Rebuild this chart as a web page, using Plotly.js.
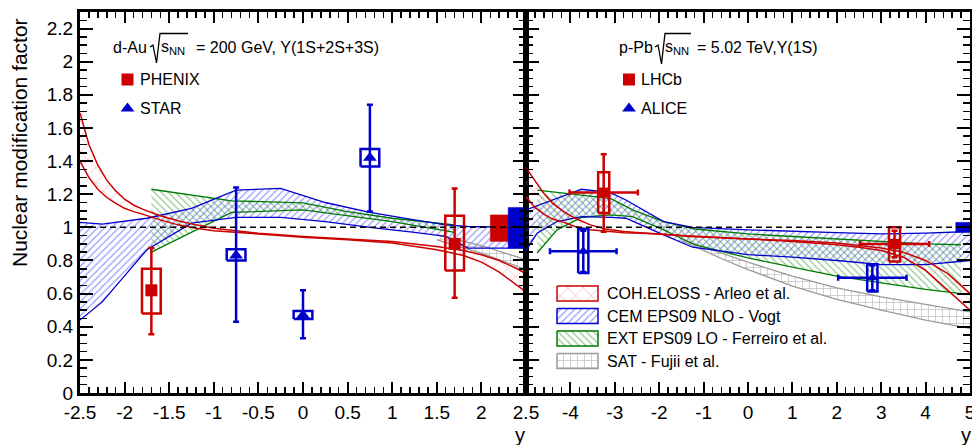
<!DOCTYPE html>
<html><head><meta charset="utf-8">
<script src="https://cdn.plot.ly/plotly-3.0.1.min.js"></script>
<style>html,body{margin:0;padding:0;background:#fff}#chart{width:972px;height:445px}</style>
</head><body><div id="chart"></div>
<script>
// ================= DATA =================
// ---- left panel: d-Au, sqrt(sNN) = 200 GeV, Upsilon(1S+2S+3S) ----
const phenixY      = [-1.7, 1.7];
const phenixR      = [0.62, 0.90];
const phenixStatLo = [0.355, 0.575];
const phenixStatHi = [0.875, 1.235];
const phenixSystLo = [0.48, 0.74];
const phenixSystHi = [0.75, 1.07];

const starY      = [-0.75, 0, 0.75];
const starR      = [0.83, 0.47, 1.42];
const starStatLo = [0.43, 0.33, 1.095];
const starStatHi = [1.24, 0.62, 1.74];
const starSystLo = [0.80, 0.447, 1.367];
const starSystHi = [0.868, 0.495, 1.473];

// global normalisation uncertainties (boxes at R = 1)
const globalLNames = ['PHENIX', 'STAR'];
const globalLX  = [2.2, 2.4];
const globalLLo = [0.915, 0.875];
const globalLHi = [1.075, 1.12];

// theory bands, left panel
const cohLX  = [-2.5, -2.4, -2.3, -2.2, -2.1, -2.0, -1.9, -1.8, -1.6, -1.4, -1.2, -1.0, -0.5, 0, 0.5, 1.0, 1.5, 1.8, 2.0, 2.2, 2.4, 2.5];
const cohLUp = [1.69, 1.50, 1.375, 1.285, 1.22, 1.17, 1.135, 1.11, 1.07, 1.04, 1.015, 0.995, 0.965, 0.945, 0.93, 0.915, 0.885, 0.86, 0.835, 0.80, 0.75, 0.72];
const cohLLo = [1.40, 1.30, 1.23, 1.18, 1.145, 1.115, 1.095, 1.08, 1.045, 1.015, 0.995, 0.98, 0.96, 0.94, 0.925, 0.905, 0.865, 0.83, 0.79, 0.73, 0.65, 0.61];

const cemLX  = [-2.5, -2.25, -1.75, -1.25, -0.75, -0.25, 0.25, 0.75, 1.25, 1.6, 1.85, 2.5];
const cemLUp = [1.03, 1.02, 1.055, 1.115, 1.225, 1.235, 1.15, 1.09, 1.045, 1.015, 1.005, 1.0];
const cemLLo = [0.44, 0.55, 0.865, 1.025, 1.06, 1.06, 1.035, 1.0, 0.97, 0.945, 0.875, 0.875];

const extLX  = [-1.7, -0.8, 0, 0.5, 1.0, 1.7];
const extLUp = [1.23, 1.16, 1.148, 1.095, 1.055, 1.015];
const extLLo = [0.85, 1.09, 1.105, 1.07, 1.035, 0.97];

const satLX  = [1.5, 2.0, 2.5];
const satLUp = [0.955, 0.89, 0.805];
const satLLo = [0.925, 0.845, 0.745];

// ---- right panel: p-Pb, sqrt(sNN) = 5.02 TeV, Upsilon(1S) ----
const lhcbY      = [-3.25, 3.3];
const lhcbYErr   = [0.77, 0.78];
const lhcbR      = [1.21, 0.90];
const lhcbStatLo = [0.973, 0.82];
const lhcbStatHi = [1.441, 0.98];
const lhcbSystLo = [1.087, 0.794];
const lhcbSystHi = [1.332, 1.0];

const aliceY      = [-3.71, 2.8];
const aliceYErr   = [0.75, 0.77];
const aliceR      = [0.855, 0.695];
const aliceStatLo = [0.73, 0.62];
const aliceStatHi = [0.98, 0.77];
const aliceSystLo = [0.724, 0.612];
const aliceSystHi = [0.99, 0.777];

const globalRNames = ['ALICE'];
const globalRX  = [4.84];
const globalRLo = [0.97];
const globalRHi = [1.03];

const cohRX  = [-5, -4.8, -4.6, -4.4, -4.15, -3.9, -3.55, -3.2, -2.8, -2, -1.3, 0, 1, 2, 2.5, 3, 3.5, 4, 4.5, 5];
const cohRUp = [1.36, 1.28, 1.205, 1.145, 1.095, 1.055, 1.015, 0.99, 0.975, 0.958, 0.948, 0.93, 0.92, 0.905, 0.89, 0.875, 0.85, 0.80, 0.72, 0.60];
const cohRLo = [1.185, 1.12, 1.08, 1.05, 1.03, 1.005, 0.985, 0.975, 0.968, 0.962, 0.945, 0.93, 0.915, 0.895, 0.88, 0.86, 0.82, 0.74, 0.62, 0.50];

const cemRX  = [-5, -4.75, -4.3, -3.75, -3.1, -2.75, -1.9, -1.25, 0, 1, 2, 3, 4, 5];
const cemRUp = [1.105, 1.13, 1.175, 1.23, 1.21, 1.165, 1.035, 1.0, 0.985, 0.975, 0.968, 0.96, 0.965, 0.975];
const cemRLo = [0.86, 0.965, 1.035, 1.065, 1.06, 1.055, 0.955, 0.88, 0.835, 0.82, 0.80, 0.775, 0.775, 0.80];

const extRX  = [-4.75, -4.3, -3.75, -3.1, -2.6, -1.9, -1.2, 0, 1, 2, 3, 4, 4.8];
const extRUp = [1.225, 1.21, 1.195, 1.175, 1.105, 1.035, 0.99, 0.96, 0.945, 0.93, 0.915, 0.90, 0.895];
const extRLo = [0.845, 0.985, 1.06, 1.075, 1.065, 0.985, 0.895, 0.815, 0.76, 0.705, 0.665, 0.625, 0.60];

const satRX  = [-1.5, -1, -0.5, 0, 1, 2, 3, 4, 5];
const satRUp = [0.93, 0.88, 0.835, 0.79, 0.705, 0.635, 0.58, 0.535, 0.49];
const satRLo = [0.92, 0.86, 0.80, 0.745, 0.645, 0.565, 0.50, 0.44, 0.39];

// ---- tick labels and texts ----
const xTicksL = [-2.5, -2, -1.5, -1, -0.5, 0, 0.5, 1, 1.5, 2, 2.5];
const xTextL  = ['-2.5', '-2', '-1.5', '-1', '-0.5', '0', '0.5', '1', '1.5', '2', '2.5'];
const xTicksR = [-4, -3, -2, -1, 0, 1, 2, 3, 4, 5];
const xTextR  = ['-4', '-3', '-2', '-1', '0', '1', '2', '3', '4', '5'];
const yTicks  = [0, 0.2, 0.4, 0.6, 0.8, 1, 1.2, 1.4, 1.6, 1.8, 2, 2.2];
const yText   = ['0', '0.2', '0.4', '0.6', '0.8', '1', '1.2', '1.4', '1.6', '1.8', '2', '2.2'];
const modelNames = ['COH.ELOSS - Arleo et al.', 'CEM EPS09 NLO - Vogt', 'EXT EPS09 LO - Ferreiro et al.', 'SAT - Fujii et al.'];
const expNamesL = ['PHENIX', 'STAR'];
const expNamesR = ['LHCb', 'ALICE'];

// ================= STYLE / DRAWING =================
const W = 972, H = 445;
const FONT = 'Liberation Sans, Arial, Helvetica, sans-serif';
const RED = '#cc0000', BLUE = '#0000cc', GREEN = '#007a00', GREY = '#9a9a9a';
const fx = px => px / W;
const fy = py => 1 - py / H;

const PAT = {
  coh: {shape: 'x', fg: 'rgba(255,110,110,0.55)', size: 11, sol: 0.12, line: RED},
  cem: {shape: '/', fg: 'rgba(60,60,255,0.55)', size: 5, sol: 0.22, line: BLUE},
  ext: {shape: '\\', fg: 'rgba(40,150,40,0.55)', size: 5, sol: 0.22, line: GREEN},
  sat: {shape: '+', fg: 'rgba(150,150,150,0.6)', size: 7, sol: 0.2, line: GREY}
};

function band(x, up, lo, xa, ya, p) {
  return {
    type: 'scatter', x: x.concat(x.slice().reverse()), y: up.concat(lo.slice().reverse()),
    xaxis: xa, yaxis: ya, mode: 'none', fill: 'toself', fillcolor: 'rgba(0,0,0,0)',
    fillpattern: {shape: p.shape, fgcolor: p.fg, bgcolor: 'rgba(0,0,0,0)', size: p.size, solidity: p.sol},
    hoverinfo: 'skip', showlegend: false
  };
}
function edge(x, y, xa, ya, color, w) {
  return {type: 'scatter', x: x, y: y, xaxis: xa, yaxis: ya, mode: 'lines',
    line: {color: color, width: w}, hoverinfo: 'skip', showlegend: false};
}
function boxes(cx, lo, hi, halfw, xa, ya, color, lw, filled) {
  const xs = [], ys = [];
  for (let i = 0; i < cx.length; i++) {
    xs.push(cx[i] - halfw, cx[i] + halfw, cx[i] + halfw, cx[i] - halfw, cx[i] - halfw, null);
    ys.push(lo[i], lo[i], hi[i], hi[i], lo[i], null);
  }
  const t = {type: 'scatter', x: xs, y: ys, xaxis: xa, yaxis: ya, mode: 'lines',
    line: {color: color, width: lw}, hoverinfo: 'skip', showlegend: false};
  if (filled) { t.fill = 'toself'; t.fillcolor = color; }
  return t;
}
function points(x, r, lo, hi, xerr, xa, ya, color, symbol, size) {
  const t = {type: 'scatter', x: x, y: r, xaxis: xa, yaxis: ya, mode: 'markers',
    marker: {symbol: symbol, size: size, color: color},
    error_y: {type: 'data', symmetric: false, array: hi.map((v, i) => v - r[i]),
      arrayminus: lo.map((v, i) => r[i] - v), color: color, thickness: 2.5, width: 3},
    hoverinfo: 'skip', showlegend: false};
  if (xerr) t.error_x = {type: 'data', array: xerr, color: color, thickness: 2.5, width: 3};
  return t;
}

const traces = [];
// left bands
traces.push(band(cohLX, cohLUp, cohLLo, 'x', 'y', PAT.coh));
traces.push(band(cemLX, cemLUp, cemLLo, 'x', 'y', PAT.cem));
traces.push(band(extLX, extLUp, extLLo, 'x', 'y', PAT.ext));
traces.push(band(satLX, satLUp, satLLo, 'x', 'y', PAT.sat));
traces.push(edge(satLX, satLUp, 'x', 'y', GREY, 1.3), edge(satLX, satLLo, 'x', 'y', GREY, 1.3));
traces.push(edge(extLX, extLUp, 'x', 'y', GREEN, 1.3), edge(extLX, extLLo, 'x', 'y', GREEN, 1.3));
traces.push(edge(cemLX, cemLUp, 'x', 'y', BLUE, 1.3), edge(cemLX, cemLLo, 'x', 'y', BLUE, 1.3));
traces.push(edge(cohLX, cohLUp, 'x', 'y', RED, 1.5), edge(cohLX, cohLLo, 'x', 'y', RED, 1.5));
// right bands
traces.push(band(cohRX, cohRUp, cohRLo, 'x2', 'y2', PAT.coh));
traces.push(band(cemRX, cemRUp, cemRLo, 'x2', 'y2', PAT.cem));
traces.push(band(extRX, extRUp, extRLo, 'x2', 'y2', PAT.ext));
traces.push(band(satRX, satRUp, satRLo, 'x2', 'y2', PAT.sat));
traces.push(edge(satRX, satRUp, 'x2', 'y2', GREY, 1.3), edge(satRX, satRLo, 'x2', 'y2', GREY, 1.3));
traces.push(edge(extRX, extRUp, 'x2', 'y2', GREEN, 1.3), edge(extRX, extRLo, 'x2', 'y2', GREEN, 1.3));
traces.push(edge(cemRX, cemRUp, 'x2', 'y2', BLUE, 1.3), edge(cemRX, cemRLo, 'x2', 'y2', BLUE, 1.3));
traces.push(edge(cohRX, cohRUp, 'x2', 'y2', RED, 1.5), edge(cohRX, cohRLo, 'x2', 'y2', RED, 1.5));

// global boxes
traces.push(boxes([globalLX[0]], [globalLLo[0]], [globalLHi[0]], 0.1, 'x', 'y', RED, 0.5, true));
traces.push(boxes([globalLX[1]], [globalLLo[1]], [globalLHi[1]], 0.1, 'x', 'y', BLUE, 0.5, true));
traces.push(boxes(globalRX, globalRLo, globalRHi, 0.16, 'x2', 'y2', BLUE, 0.5, true));

// systematic boxes + points
traces.push(boxes(phenixY, phenixSystLo, phenixSystHi, 0.105, 'x', 'y', RED, 2.5, false));
traces.push(boxes(starY, starSystLo, starSystHi, 0.105, 'x', 'y', BLUE, 2.5, false));
traces.push(points(phenixY, phenixR, phenixStatLo, phenixStatHi, null, 'x', 'y', RED, 'square', 12));
traces.push(points(starY, starR, starStatLo, starStatHi, null, 'x', 'y', BLUE, 'triangle-up', 12));

traces.push(boxes(lhcbY, lhcbSystLo, lhcbSystHi, 0.125, 'x2', 'y2', RED, 2.5, false));
traces.push(boxes(aliceY, aliceSystLo, aliceSystHi, 0.115, 'x2', 'y2', BLUE, 2.5, false));
traces.push(points(lhcbY, lhcbR, lhcbStatLo, lhcbStatHi, lhcbYErr, 'x2', 'y2', RED, 'square', 10));
traces.push(points(aliceY, aliceR, aliceStatLo, aliceStatHi, aliceYErr, 'x2', 'y2', BLUE, 'triangle-up', 10));

// ---- legends, drawn on a hidden pixel-space overlay axis (x3/y3) ----
const pats = [PAT.coh, PAT.cem, PAT.ext, PAT.sat];
const annotations = [];
modelNames.forEach((name, i) => {
  const cy = 293.5 + i * 22.5, x0 = 557, x1 = 598, h = 7.5;
  const p = pats[i];
  traces.push({type: 'scatter', x: [x0, x1, x1, x0, x0], y: [cy - h, cy - h, cy + h, cy + h, cy - h],
    xaxis: 'x3', yaxis: 'y3', mode: 'lines', fill: 'toself', fillcolor: 'rgba(0,0,0,0)',
    fillpattern: {shape: p.shape, fgcolor: p.fg, bgcolor: 'rgba(0,0,0,0)', size: p.size, solidity: p.sol},
    line: {color: p.line, width: 1.5}, hoverinfo: 'skip', showlegend: false});
  annotations.push({xref: 'paper', yref: 'paper', x: fx(605), y: fy(cy), xanchor: 'left', yanchor: 'middle',
    text: name, showarrow: false, font: {family: FONT, size: 16, color: 'black'}});
});
const expLeg = [
  {name: expNamesL[0], x: 127.5, y: 79.5, sym: 'square', color: RED},
  {name: expNamesL[1], x: 127.5, y: 108.5, sym: 'triangle-up', color: BLUE},
  {name: expNamesR[0], x: 629, y: 79.5, sym: 'square', color: RED},
  {name: expNamesR[1], x: 629, y: 108.5, sym: 'triangle-up', color: BLUE}
];
expLeg.forEach(e => {
  traces.push({type: 'scatter', x: [e.x], y: [e.y], xaxis: 'x3', yaxis: 'y3', mode: 'markers',
    marker: {symbol: e.sym, size: 12, color: e.color}, hoverinfo: 'skip', showlegend: false});
  annotations.push({xref: 'paper', yref: 'paper', x: fx(e.x + 10), y: fy(e.y), xanchor: 'left', yanchor: 'middle',
    text: e.name, showarrow: false, font: {family: FONT, size: 16, color: 'black'}});
});

// headers
function txt(px, py, s, size, extra) {
  return Object.assign({xref: 'paper', yref: 'paper', x: fx(px), y: fy(py), xanchor: 'left', yanchor: 'middle',
    text: s, showarrow: false, font: {family: FONT, size: size, color: 'black'}}, extra || {});
}
annotations.push(txt(111, 48, 'd-Au', 16));
annotations.push(txt(159, 48, 's<sub>NN</sub>', 16));
annotations.push(txt(194, 48, '= 200 GeV, \u03A5(1S+2S+3S)', 16));
annotations.push(txt(617, 48, 'p-Pb', 16));
annotations.push(txt(663, 48, 's<sub>NN</sub>', 16));
annotations.push(txt(695, 48, '= 5.02 TeV,\u03A5(1S)', 16));
// axis titles
annotations.push({xref: 'paper', yref: 'paper', x: fx(20), y: fy(143), xanchor: 'center', yanchor: 'middle',
  text: 'Nuclear modification factor', textangle: -90, showarrow: false, font: {family: FONT, size: 21, color: 'black'}});
annotations.push(txt(513, 435, 'y', 20));
annotations.push(txt(959, 435, 'y', 20));

function radical(pts) {
  return 'M' + pts.map(p => fx(p[0]) + ',' + fy(p[1])).join(' L');
}
const shapes = [
  {type: 'path', xref: 'paper', yref: 'paper', path: radical([[150, 47], [153, 45], [156.5, 63], [160, 33.5], [188, 33.5]]),
    line: {color: 'black', width: 1.3}},
  {type: 'path', xref: 'paper', yref: 'paper', path: radical([[655, 47], [658, 45], [661.5, 64], [665, 33.5], [691, 33.5]]),
    line: {color: 'black', width: 1.3}},
  {type: 'line', xref: 'x domain', yref: 'y', x0: 0, x1: 1, y0: 1, y1: 1, line: {color: 'black', width: 1.5, dash: '6px,4px'}},
  {type: 'line', xref: 'x2 domain', yref: 'y2', x0: 0, x1: 1, y0: 1, y1: 1, line: {color: 'black', width: 1.5, dash: '6px,4px'}}
];

const axBase = {showline: true, linecolor: 'black', linewidth: 3, mirror: 'ticks', ticks: 'inside',
  tickcolor: 'black', tickwidth: 2, showgrid: false, zeroline: false, fixedrange: true,
  tickfont: {family: FONT, size: 19, color: 'black'}, tickmode: 'array', ticklabeloverflow: 'allow'};
const yDom = [fy(393), fy(12)];

const layout = {
  width: W, height: H, margin: {l: 0, r: 0, t: 0, b: 0}, paper_bgcolor: 'white', plot_bgcolor: 'rgba(0,0,0,0)',
  showlegend: false, annotations: annotations, shapes: shapes,
  xaxis: Object.assign({}, axBase, {domain: [fx(80), fx(526)], range: [-2.5, 2.5], tickvals: xTicksL, ticktext: xTextL,
    ticklen: 11, anchor: 'y',
    minor: {ticks: 'inside', tickmode: 'linear', tick0: 0, dtick: 0.1, ticklen: 6, tickwidth: 1.5, tickcolor: 'black'}}),
  yaxis: Object.assign({}, axBase, {domain: yDom, range: [0, 2.3], tickvals: yTicks, ticktext: yText,
    ticklen: 13, anchor: 'x',
    minor: {ticks: 'inside', tickmode: 'linear', tick0: 0, dtick: 0.05, ticklen: 7, tickwidth: 1.5, tickcolor: 'black'}}),
  xaxis2: Object.assign({}, axBase, {domain: [fx(526), fx(970)], range: [-5, 5], tickvals: xTicksR, ticktext: xTextR,
    ticklen: 11, anchor: 'y2',
    minor: {ticks: 'inside', tickmode: 'linear', tick0: 0, dtick: 0.2, ticklen: 6, tickwidth: 1.5, tickcolor: 'black'}}),
  yaxis2: Object.assign({}, axBase, {domain: yDom, range: [0, 2.3], tickvals: yTicks, ticktext: yText,
    showticklabels: false, ticklen: 13, anchor: 'x2',
    minor: {ticks: 'inside', tickmode: 'linear', tick0: 0, dtick: 0.05, ticklen: 7, tickwidth: 1.5, tickcolor: 'black'}}),
  xaxis3: {domain: [0, 1], range: [0, W], visible: false, fixedrange: true, anchor: 'y3'},
  yaxis3: {domain: [0, 1], range: [H, 0], visible: false, fixedrange: true, anchor: 'x3'}
};

Plotly.newPlot('chart', traces, layout, {staticPlot: true, displayModeBar: false});
</script>
</body></html>
